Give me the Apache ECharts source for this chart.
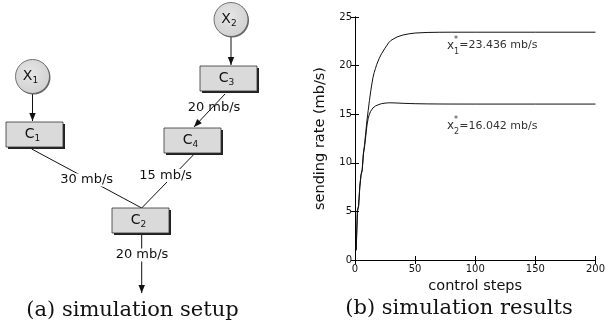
<!DOCTYPE html>
<html><head><meta charset="utf-8">
<script src="https://cdn.jsdelivr.net/npm/echarts/dist/echarts.min.js"></script>
<style>html,body{margin:0;padding:0;background:#fff}#c{width:608px;height:333px}</style>
</head><body><div id="c"></div>
<script>
// ---- chart data (b) ----
const steps   = [1,2,3,4,5,6,7,8,9,10,11,12,13,14,15,16,17,18,20,22,25,28,30,35,40,45,50,60,70,80,100,150,200];
const rateX1  = [1.0,5.1,5.6,7.6,8.8,9.3,11.0,11.9,13.2,14.4,15.4,16.4,17.3,18.1,18.8,19.3,19.7,20.1,20.7,21.2,21.8,22.35,22.6,22.95,23.15,23.27,23.35,23.41,23.43,23.436,23.436,23.436,23.436];
const rateX2  = [1.0,5.0,5.5,7.5,8.7,9.2,10.9,11.7,12.8,13.9,14.6,15.0,15.3,15.5,15.65,15.75,15.85,15.92,16.0,16.08,16.14,16.17,16.17,16.15,16.12,16.1,16.08,16.06,16.05,16.045,16.042,16.042,16.042];
const xTicks  = [0,50,100,150,200];
const yTicks  = [0,5,10,15,20,25];
const eqValues = ['23.436','16.042'];
const eqIndex  = ['1','2'];
const captions = ['(a) simulation setup','(b) simulation results'];

// ---- diagram data (a) ----
const nodeNames  = ['X1','X2','C1','C3','C4','C2'];
const linkFrom   = ['X1','X2','C3','C1','C4','C2'];
const linkTo     = ['C1','C3','C4','C2','C2','out'];
const linkLabels = ['','','20 mb/s','30 mb/s','15 mb/s','20 mb/s'];

// ---- diagram layout (pixels) ----
const nodeLayout = {
  X1:{shape:'circle',c:[32.5,76.5]}, X2:{shape:'circle',c:[231,19.5]},
  C1:{shape:'rect',c:[34.5,134.5]}, C3:{shape:'rect',c:[228.5,78.5]},
  C4:{shape:'rect',c:[192.5,140.5]}, C2:{shape:'rect',c:[140.5,220.5]}
};
const linkLayout = [
  {p:[[32.5,94],[32.5,121]], arrow:true},
  {p:[[231,37],[231,65]], arrow:true},
  {p:[[225,94],[194,127]], arrow:true, lab:[214,108], bg:false},
  {p:[[31.7,149],[141.7,208]], arrow:false, lab:[86.7,180], bg:true},
  {p:[[193.3,155],[141.7,208]], arrow:false, lab:[165.7,175.5], bg:true},
  {p:[[141.7,234],[141.7,293]], arrow:true, lab:[142,255], bg:true}
];

const SANS = 'DejaVu Sans';
const SERIF = 'DejaVu Serif';
const graphics = [];
// links
linkFrom.forEach((f,i)=>{
  const L = linkLayout[i];
  const [a,b] = L.p;
  graphics.push({type:'line', shape:{x1:a[0],y1:a[1],x2:b[0],y2:b[1]}, style:{stroke:'#111',lineWidth:1}, z:1});
  if (L.arrow){
    const dx=b[0]-a[0], dy=b[1]-a[1], len=Math.hypot(dx,dy), ux=dx/len, uy=dy/len;
    const hl=8, hw=3.2;
    const bx=b[0]-ux*hl, by=b[1]-uy*hl;
    graphics.push({type:'polygon', shape:{points:[[b[0],b[1]],[bx-uy*hw,by+ux*hw],[bx+uy*hw,by-ux*hw]]}, style:{fill:'#111'}, z:2});
  }
  if (linkLabels[i]){
    graphics.push({type:'text', x:L.lab[0], y:L.lab[1], z:3, style:{text:linkLabels[i], fontFamily:SANS, fontSize:13, fill:'#111', align:'center', verticalAlign:'middle',
      backgroundColor: L.bg ? '#fff' : null, padding: L.bg ? [0,1] : 0}});
  }
});
// nodes
nodeNames.forEach(n=>{
  const L = nodeLayout[n];
  const [cx,cy] = L.c;
  if (L.shape==='circle'){
    graphics.push({type:'circle', shape:{cx:cx+1,cy:cy+1,r:17}, style:{fill:'#666'}, z:4});
    graphics.push({type:'circle', shape:{cx,cy,r:17}, z:5, style:{
      fill:{type:'radial',x:0.45,y:0.4,r:0.65,colorStops:[{offset:0,color:'#e6e6e6'},{offset:1,color:'#cfcfcf'}]},
      stroke:'#555', lineWidth:0.8}});
  } else {
    const w=57,h=25;
    graphics.push({type:'rect', shape:{x:cx-w/2+2,y:cy-h/2+2,width:w,height:h}, style:{fill:'#222'}, z:4});
    graphics.push({type:'rect', shape:{x:cx-w/2,y:cy-h/2,width:w,height:h}, style:{fill:'#dadada',stroke:'#333',lineWidth:0.8}, z:5});
  }
  graphics.push({type:'text', x:cx-2, y:cy, z:6, style:{
    text:'{m|'+n[0]+'}{s|'+n.slice(1)+'}', align:'center', verticalAlign:'middle',
    rich:{m:{fontFamily:SANS,fontSize:14,fill:'#111',lineHeight:18,verticalAlign:'middle'},
          s:{fontFamily:SANS,fontSize:9,fill:'#111',lineHeight:12,verticalAlign:'bottom'}}}});
});
// captions
graphics.push({type:'text', x:132.5, y:311, style:{text:captions[0], fontFamily:SERIF, fontSize:21, fill:'#111', align:'center', verticalAlign:'middle'}});
graphics.push({type:'text', x:459, y:309, style:{text:captions[1], fontFamily:SERIF, fontSize:21, fill:'#111', align:'center', verticalAlign:'middle'}});

const eqRich = {
  x:{fontFamily:SANS,fontSize:12,fill:'#111',lineHeight:20,verticalAlign:'middle'},
  p:{fontFamily:SANS,fontSize:8,fill:'#111',lineHeight:10,verticalAlign:'top',width:0},
  b:{fontFamily:SANS,fontSize:8,fill:'#111',lineHeight:11,verticalAlign:'bottom'},
  t:{fontFamily:SANS,fontSize:11,fill:'#111',lineHeight:20,verticalAlign:'middle'}
};
function eqLabel(i){ return '{x|x}{p|*}{b|'+eqIndex[i]+'}{t|='+eqValues[i]+' mb/s}'; }

const axisCommon = {min:0, axisLine:{show:true,lineStyle:{color:'#000',width:1}}, axisTick:{show:true,inside:true,length:4,lineStyle:{color:'#000'}}, splitLine:{show:false}};
const option = {
  animation:false,
  backgroundColor:'#fff',
  grid:{left:355, top:17, width:243, height:243, containLabel:false},
  xAxis:[
    Object.assign({type:'value', max:200, interval:50, position:'bottom',
      name:'control steps', nameLocation:'middle', nameGap:18, nameTextStyle:{fontFamily:SANS,fontSize:14.5,color:'#111'},
      axisLabel:{fontFamily:SANS,fontSize:10,color:'#111',margin:4,formatter:v=>xTicks.includes(v)?String(v):''}}, axisCommon),
    Object.assign({type:'value', max:200, interval:50, position:'top', axisLabel:{show:false}}, axisCommon)
  ],
  yAxis:[
    Object.assign({type:'value', max:25, interval:5, position:'left',
      name:'sending rate (mb/s)', nameLocation:'middle', nameGap:27, nameTextStyle:{fontFamily:SANS,fontSize:14.5,color:'#111'},
      axisLabel:{fontFamily:SANS,fontSize:10,color:'#111',margin:3,formatter:v=>yTicks.includes(v)?String(v):''}}, axisCommon),
    Object.assign({type:'value', max:25, interval:5, position:'right', axisLabel:{show:false}}, axisCommon)
  ],
  series:[
    {type:'line', name:'x1', showSymbol:false, data:steps.map((s,i)=>[s,rateX1[i]]), lineStyle:{color:'#111',width:1}, z:3,
     markPoint:{symbol:'circle', symbolSize:0, data:[{coord:[76.5,22.07], label:{show:true, position:'right', distance:0, formatter:eqLabel(0), rich:eqRich}}]}},
    {type:'line', name:'x2', showSymbol:false, data:steps.map((s,i)=>[s,rateX2[i]]), lineStyle:{color:'#111',width:1}, z:3,
     markPoint:{symbol:'circle', symbolSize:0, data:[{coord:[76.5,13.8], label:{show:true, position:'right', distance:0, formatter:eqLabel(1), rich:eqRich}}]}}
  ],
  graphic:graphics
};
const chart = echarts.init(document.getElementById('c'), null, {renderer:'canvas'});
chart.setOption(option);
</script></body></html>
